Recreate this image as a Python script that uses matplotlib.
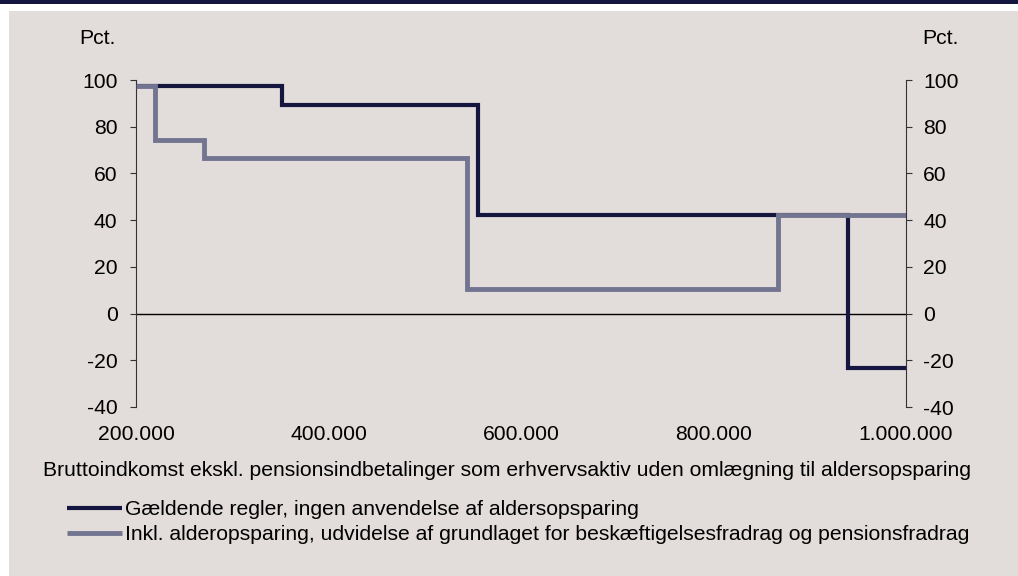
import numpy as np
import matplotlib.pyplot as plt
from matplotlib.patches import Rectangle

plt.rcParams['font.family'] = ['Liberation Sans', 'DejaVu Sans']
plt.rcParams['axes.unicode_minus'] = False

# step series (income in kr, value in pct.)
x_current = [200000, 352000, 555000, 940000, 1000000]
y_current = [97.5, 89.5, 42.0, -23.5, -23.5]
x_incl = [200000, 220000, 271000, 544000, 867000, 1000000]
y_incl = [97.5, 74.5, 66.5, 10.5, 42.0, 42.0]

xticks = [200000, 400000, 600000, 800000, 1000000]
xtick_labels = ['200.000', '400.000', '600.000', '800.000', '1.000.000']
yticks = [-40, -20, 0, 20, 40, 60, 80, 100]

lab_current = 'Gældende regler, ingen anvendelse af aldersopsparing'
lab_incl = 'Inkl. alderopsparing, udvidelse af grundlaget for beskæftigelsesfradrag og pensionsfradrag'
xlab = 'Bruttoindkomst ekskl. pensionsindbetalinger som erhvervsaktiv uden omlægning til aldersopsparing'

navy = '#14163f'
grey = '#737590'
panel = '#e2dcda'
fs = 15.2

W, H = 1018, 576
fig = plt.figure(figsize=(W/100, H/100), dpi=100)
fig.patch.set_facecolor('white')
# dark band on top and the grey panel
fig.add_artist(Rectangle((0, 1-4/H), 1, 4/H, transform=fig.transFigure, color=navy, lw=0, zorder=-10))
fig.add_artist(Rectangle((9/W, 0), 1-9/W, 1-11/H, transform=fig.transFigure, color=panel, lw=0, zorder=-10))

ax = fig.add_axes([136/W, 1-407/H, (906-136)/W, (407-80)/H])
ax.patch.set_alpha(0)
ax.step(x_current, y_current, where='post', color=navy, lw=3.0, solid_joinstyle='miter',
        solid_capstyle='butt', label=lab_current, zorder=3)
ax.step(x_incl, y_incl, where='post', color=grey, lw=3.5, solid_joinstyle='miter',
        solid_capstyle='butt', label=lab_incl, zorder=4)
ax.axhline(0, color='black', lw=1, zorder=2)

ax.set_xlim(200000, 1000000)
ax.set_ylim(-40, 100)
for s in ['top', 'bottom', 'right']:
    ax.spines[s].set_visible(False)
ax.spines['left'].set_color('#333333')
ax.set_xticks(xticks)
ax.set_xticklabels(xtick_labels)
ax.set_yticks(yticks)
ax.tick_params(axis='x', length=0, pad=13, labelsize=fs)
ax.tick_params(axis='y', length=4.3, direction='out', color='#333333', pad=9, labelsize=fs)
ax.set_xlabel(xlab, fontsize=fs, labelpad=13)
ax.xaxis.set_label_coords((507-136)/770, -(470-407)/327)
ax.xaxis.label.set_va('center')

ax2 = ax.twinx()
ax2.set_ylim(-40, 100)
ax2.set_yticks(yticks)
for s in ['top', 'bottom', 'left']:
    ax2.spines[s].set_visible(False)
ax2.spines['right'].set_color('#333333')
ax2.tick_params(axis='y', length=4.3, direction='out', color='#333333', pad=8, labelsize=fs)

fig.text(97/W, 1-38/H, 'Pct.', fontsize=fs, ha='center', va='center')
fig.text(940/W, 1-38/H, 'Pct.', fontsize=fs, ha='center', va='center')

leg = fig.legend(handles=ax.get_lines()[:2], loc='upper left', bbox_to_anchor=(67/W, 1-500/H),
                 frameon=False, fontsize=fs, handlelength=2.6, handletextpad=0.15,
                 labelspacing=0.3, borderpad=0, borderaxespad=0)

fig.savefig('out.png', dpi=100)
